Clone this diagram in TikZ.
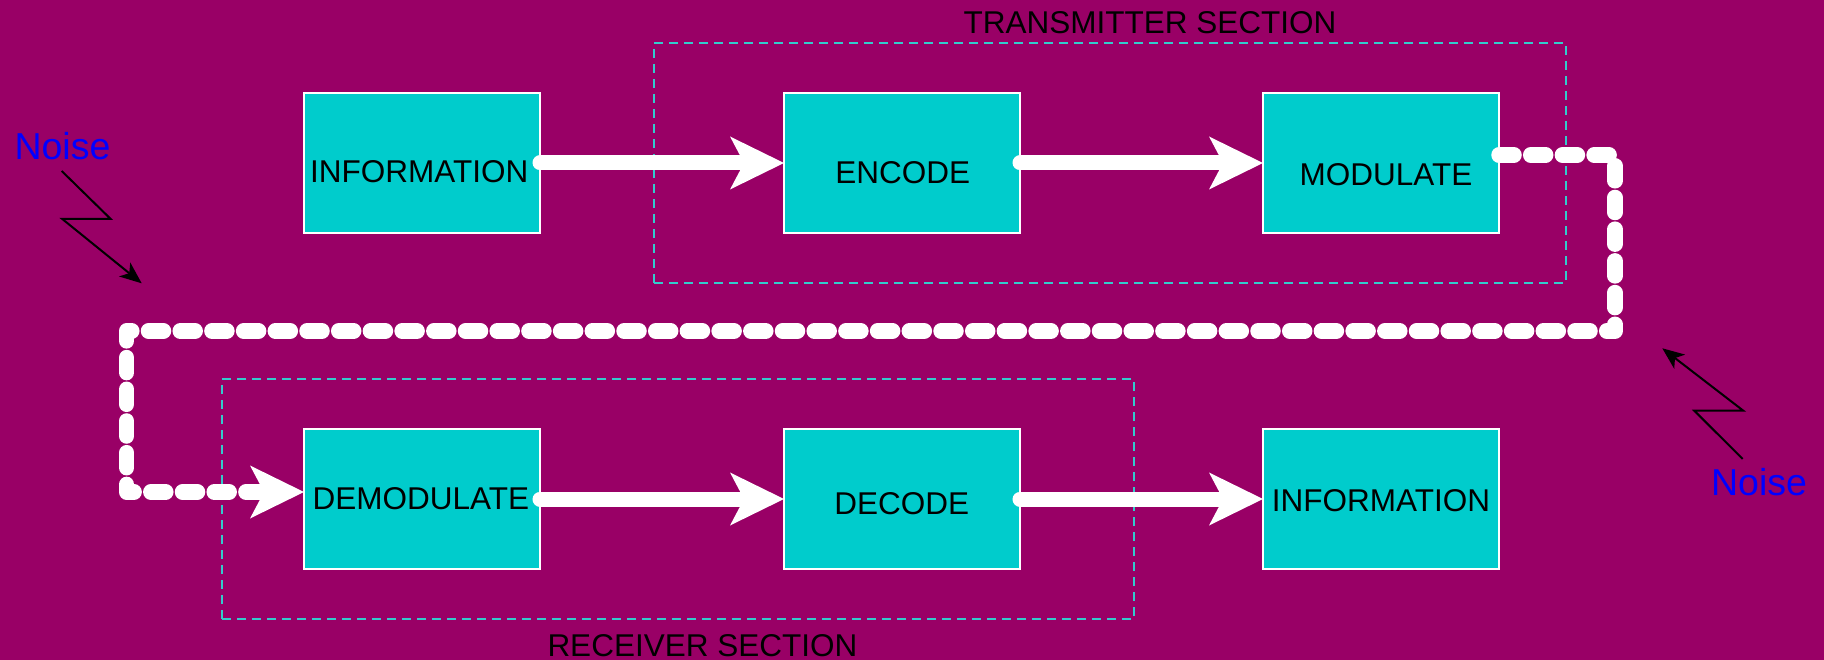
\documentclass[tikz,border=0pt]{standalone}
\usepackage{fontspec}
\setmainfont{Liberation Sans}
\usetikzlibrary{arrows.meta,calc}
\definecolor{bgmag}{RGB}{153,0,102}
\definecolor{boxcyan}{RGB}{0,204,204}
\definecolor{seccyan}{RGB}{51,204,204}
\tikzset{
  blockbox/.style={draw=white,line width=1.5pt,fill=boxcyan,minimum width=236pt,minimum height=140pt,inner sep=0pt,outer sep=0pt},
  blocklbl/.style={anchor=base,inner sep=0pt,font=\fontsize{31.5}{36}\selectfont,text=black},
  secbox/.style={draw=seccyan,line width=2pt,dash pattern=on 9pt off 6pt,minimum width=912pt,minimum height=240pt,inner sep=0pt,outer sep=0pt},
  seclbl/.style={anchor=base,inner sep=0pt,font=\fontsize{31.5}{36}\selectfont,text=black},
  noiselbl/.style={anchor=base,inner sep=0pt,font=\fontsize{37.5}{42}\selectfont,text=blue},
  bigtip/.tip={Stealth[length=54pt,width=53pt,inset=14pt,line width=0pt]},
  flowarrow/.style={draw=white,line width=15pt,line cap=round,-bigtip},
  channel/.style={draw=white,line width=15.5pt,line cap=round,line join=round,dash pattern=on 15pt off 16.7pt,-bigtip},
  noisearrow/.style={draw=black,line width=2pt,line join=miter,-{Stealth[length=22pt,width=18pt,inset=6pt,line width=0pt]}},
}
\begin{document}
\begin{tikzpicture}[x=1pt,y=-1pt]
\fill[bgmag] (0,0) rectangle (1824,660);
\useasboundingbox (0,0) rectangle (1824,660);

% section frames
\node[secbox] (tx) at (1110,163) {};
\node[secbox] (rx) at (678.4,499.2) {};
\node[seclbl] (txl) at (1150,33.3) {TRANSMITTER SECTION};
\node[seclbl] (rxl) at (702.4,656.7) {RECEIVER SECTION};

% blocks
\node[blockbox] (info) at (422,163) {};
\node[blockbox] (enc) at (902,163) {};
\node[blockbox] (mod) at (1381,163) {};
\node[blockbox] (demod) at (422,499) {};
\node[blockbox] (dec) at (902,499) {};
\node[blockbox] (infob) at (1381,499) {};

\node[blocklbl] (infoT) at (419.2,183) {INFORMATION};
\node[blocklbl] (encT) at (902.8,183.5) {ENCODE};
\node[blocklbl] (modT) at (1386,185.5) {MODULATE};
\node[blocklbl] (demodT) at (420.8,509.5) {DEMODULATE};
\node[blocklbl] (decT) at (901.7,514.5) {DECODE};
\node[blocklbl] (infobT) at (1381,511) {INFORMATION};

% flow arrows
\draw[flowarrow] (info.east) -- (enc.west);
\draw[flowarrow] (enc.east) -- (mod.west);
\draw[flowarrow] (dec.east) -- (infob.west);
\draw[flowarrow] (demod.east) -- (dec.west);

% channel
\coordinate (ch1) at (1615,155);
\coordinate (ch2) at (1615,331);
\coordinate (ch3) at (126.7,331);
\coordinate (ch4) at (126.7,492);
\draw[channel] ($(mod.east)+(0,-8)$) -- (ch1) -- (ch2) -- (ch3) -- (ch4) -- ($(demod.west)+(0,-7)$);

% noise
\node[noiselbl] (n1) at (62.5,160) {Noise};
\node[noiselbl] (n2) at (1759,495.7) {Noise};
\coordinate (n1a) at (61.7,171);
\coordinate (n1b) at (110.7,219);
\coordinate (n1c) at (62.3,219);
\coordinate (n1d) at (141.7,283.3);
\draw[noisearrow] (n1a) -- (n1b) -- (n1c) -- (n1d);
\coordinate (n2a) at (1742.7,459);
\coordinate (n2b) at (1694.3,410.7);
\coordinate (n2c) at (1743.3,410.7);
\coordinate (n2d) at (1662.3,348.3);
\draw[noisearrow] (n2a) -- (n2b) -- (n2c) -- (n2d);
\end{tikzpicture}
\end{document}
